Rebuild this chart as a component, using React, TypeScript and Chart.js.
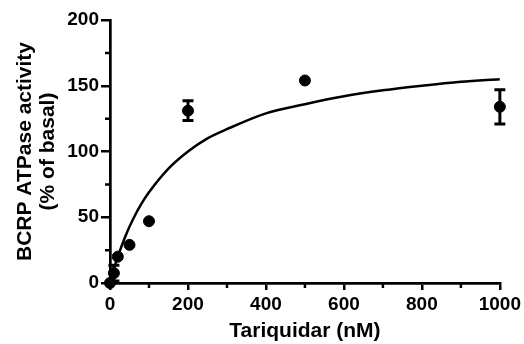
import React, { useEffect, useRef } from "react";
import { Chart, registerables } from "chart.js";

Chart.register(...registerables);

// Measured data
const concX = [0, 10, 20, 50, 100, 200, 500, 1000];
const meanY = [0, 7.5, 20, 29, 47, 131, 154, 134];
const errY = [0, 6, 0, 0, 0, 7.5, 0, 13];

// Fitted curve
const fitX = [0, 10, 20, 40, 60, 80, 100, 150, 200, 250, 300, 400, 500, 600, 700, 800, 900, 1000];
const fitY = [0, 10.6, 20, 36, 49, 60, 69, 87, 100, 110, 117, 129, 136, 142, 146.5, 150, 153, 155];

// Axis ticks
const xMajorTicks = [0, 200, 400, 600, 800, 1000];
const xMinorTicks = [100, 300, 500, 700, 900];
const yMajorTicks = [0, 50, 100, 150, 200];
const yMinorTicks = [25, 75, 125, 175];

const FONT = "'Liberation Sans', Arial, Helvetica, sans-serif";

const extrasPlugin = {
  id: "extras",
  afterDatasetsDraw(chart: any) {
    const ctx = chart.ctx;
    const xs = chart.scales.x;
    const ys = chart.scales.y;
    const area = chart.chartArea;
    ctx.save();
    ctx.strokeStyle = "#000";
    // error bars
    ctx.lineWidth = 3;
    for (let i = 0; i < concX.length; i++) {
      if (!errY[i]) continue;
      const px = xs.getPixelForValue(concX[i]);
      const top = ys.getPixelForValue(meanY[i] + errY[i]);
      const bot = ys.getPixelForValue(Math.max(0, meanY[i] - errY[i]));
      ctx.beginPath();
      ctx.moveTo(px, top);
      ctx.lineTo(px, bot);
      ctx.moveTo(px - 5.5, top);
      ctx.lineTo(px + 5.5, top);
      ctx.moveTo(px - 5.5, bot);
      ctx.lineTo(px + 5.5, bot);
      ctx.stroke();
    }
    // minor ticks
    ctx.lineWidth = 2.5;
    ctx.beginPath();
    for (const v of yMinorTicks) {
      const py = ys.getPixelForValue(v);
      ctx.moveTo(area.left - 5, py);
      ctx.lineTo(area.left, py);
    }
    for (const v of xMinorTicks) {
      const px = xs.getPixelForValue(v);
      ctx.moveTo(px, area.bottom);
      ctx.lineTo(px, area.bottom + 5);
    }
    ctx.stroke();
    ctx.restore();
  },
};

export default function App() {
  const ref = useRef<HTMLCanvasElement | null>(null);
  useEffect(() => {
    document.body.style.margin = "0";
    const canvas = ref.current!;
    const chart = new Chart(canvas, {
      type: "scatter",
      data: {
        datasets: [
          {
            type: "scatter",
            data: concX.map((x, i) => ({ x, y: meanY[i] })),
            backgroundColor: "#000",
            borderColor: "#000",
            pointRadius: 5.5,
            pointHoverRadius: 5.5,
            clip: false as any,
            order: 1,
          },
          {
            type: "line",
            data: fitX.map((x, i) => ({ x, y: fitY[i] })),
            borderColor: "#000",
            borderWidth: 2.5,
            pointRadius: 0,
            fill: false,
            cubicInterpolationMode: "monotone",
            order: 2,
          } as any,
        ],
      },
      options: {
        animation: false,
        responsive: false,
        maintainAspectRatio: false,
        events: [],
        layout: { padding: { top: 20, right: 20, left: 0, bottom: 0 } },
        plugins: { legend: { display: false }, tooltip: { enabled: false } },
        scales: {
          x: {
            type: "linear",
            min: 0,
            max: 1000,
            afterBuildTicks: (scale: any) => {
              scale.ticks = xMajorTicks.map((v) => ({ value: v }));
            },
            afterFit: (scale: any) => {
              scale.height = 61;
            },
            border: { display: true, color: "#000", width: 2.7 },
            grid: {
              display: true,
              drawOnChartArea: false,
              drawTicks: true,
              tickLength: 7,
              color: "#000",
              lineWidth: 2.5,
            },
            ticks: {
              color: "#000",
              padding: 3,
              maxRotation: 0,
              autoSkip: false,
              callback: (v: any) => String(v),
              font: { family: FONT, size: 19, weight: "bold" },
            },
            title: {
              display: true,
              text: "Tariquidar (nM)",
              color: "#000",
              font: { family: FONT, size: 21, weight: "bold", lineHeight: 1.2 },
              padding: { top: 0, bottom: 0 },
            },
          },
          y: {
            type: "linear",
            min: 0,
            max: 200,
            afterBuildTicks: (scale: any) => {
              scale.ticks = yMajorTicks.map((v) => ({ value: v }));
            },
            afterFit: (scale: any) => {
              scale.width = 110;
            },
            border: { display: true, color: "#000", width: 2.7 },
            grid: {
              display: true,
              drawOnChartArea: false,
              drawTicks: true,
              tickLength: 9,
              color: "#000",
              lineWidth: 2.5,
            },
            ticks: {
              color: "#000",
              padding: 2,
              callback: (v: any) => String(v),
              font: { family: FONT, size: 19, weight: "bold" },
            },
            title: {
              display: true,
              text: ["BCRP ATPase activity", "(% of basal)"],
              color: "#000",
              font: { family: FONT, size: 21, weight: "bold", lineHeight: 1.1 },
              padding: { top: 14, bottom: 0 },
            },
          },
        },
      },
      plugins: [extrasPlugin],
    });
    return () => chart.destroy();
  }, []);
  return (
    <div style={{ width: 524, height: 344 }}>
      <canvas ref={ref} width={524} height={344} style={{ display: "block" }} />
    </div>
  );
}
